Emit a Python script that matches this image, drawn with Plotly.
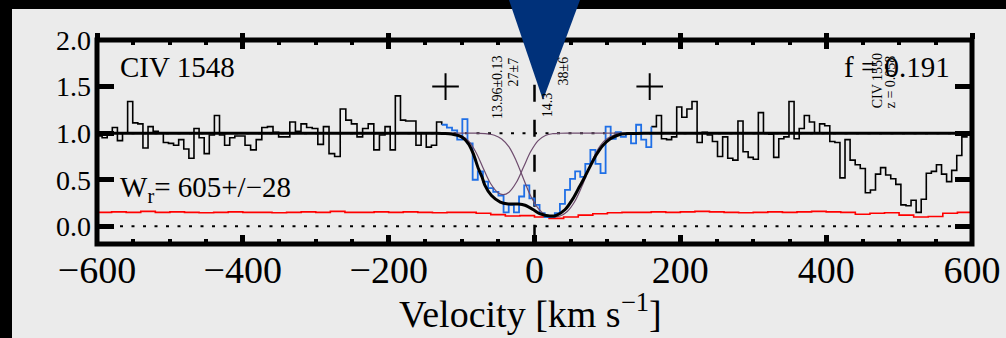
import numpy as np
import plotly.graph_objects as go

# ---------------- data (velocity in km/s, normalized flux) ----------------
seg_bounds = [-600, -397, -205, 0, 202, 398, 600]
flux_seg1 = [0.97, 0.95, 1.00, 1.06, 0.92, 1.00, 1.34, 1.11, 1.10, 0.84,
             1.07, 1.02, 1.00, 0.90, 0.89, 0.87, 0.93, 0.83, 0.73, 1.05,
             0.95, 0.78, 0.98, 1.19, 0.98, 0.87, 0.95, 0.97, 0.97]
flux_seg2 = [0.87, 0.82, 0.93, 1.06, 1.07, 1.01, 0.96, 0.96, 1.12, 1.02,
             1.10, 1.06, 1.05, 0.88, 1.07, 0.78, 0.75, 1.26, 1.14, 1.10,
             0.96, 1.05, 1.10, 0.82, 0.98]
flux_seg3 = [1.07, 0.82, 1.40, 1.14, 1.13, 1.13, 0.87, 1.00, 0.85, 0.87,
             1.12, 1.09, 1.06, 1.03, 0.93, 1.15, 0.89, 0.50, 0.59, 0.48,
             0.41, 0.37, 0.33, 0.15, 0.23, 0.15, 0.32, 0.44, 0.30]
flux_seg4 = [0.23, 0.14, 0.10, 0.10, 0.14, 0.24, 0.39, 0.51, 0.59, 0.53,
             0.67, 0.82, 0.67, 0.57, 1.07, 0.94, 1.01, 0.96, 0.99, 0.89,
             1.09, 0.93, 0.85, 1.07, 1.19, 0.94, 0.93, 0.96, 1.28]
flux_seg5 = [1.17, 1.26, 1.34, 0.90, 1.01, 0.98, 0.91, 0.75, 0.96, 0.73,
             0.71, 1.13, 0.80, 0.74, 0.72, 1.22, 1.00, 0.99, 0.74, 0.94,
             0.96, 1.34, 0.94, 1.05, 1.19, 1.12, 1.00, 1.10]
flux_seg6 = [1.08, 0.91, 0.90, 0.52, 0.93, 0.71, 0.66, 0.62, 0.36, 0.39,
             0.56, 0.63, 0.55, 0.51, 0.45, 0.23, 0.22, 0.28, 0.15, 0.29,
             0.57, 0.59, 0.66, 0.56, 0.48, 0.60, 0.76, 0.96, 0.98]
flux_segments = [flux_seg1, flux_seg2, flux_seg3, flux_seg4, flux_seg5, flux_seg6]

fit_region = [-128, 158]

# error spectrum, 20 km/s bins starting at -600
err_v0, err_dv = -600, 20
err_flux = [0.150, 0.155, 0.150, 0.160, 0.150, 0.155, 0.150, 0.145, 0.150, 0.155,
            0.150, 0.150, 0.145, 0.150, 0.155, 0.150, 0.160, 0.150, 0.150, 0.155,
            0.150, 0.155, 0.150, 0.145, 0.150, 0.150, 0.140, 0.125, 0.110, 0.115,
            0.100, 0.085, 0.100, 0.120, 0.135, 0.145, 0.150, 0.150, 0.155, 0.150,
            0.155, 0.160, 0.155, 0.150, 0.145, 0.150, 0.155, 0.150, 0.155, 0.160,
            0.155, 0.150, 0.130, 0.140, 0.145, 0.120, 0.100, 0.105, 0.140, 0.150]

# total fit (convolved)
fit_v = [-600, -135, -125, -114, -100, -91, -84, -77, -72, -68,
         -59, -47, -36, -22, -13, 0, 7, 21, 30, 42,
         53, 62, 69, 78, 85, 94, 104, 117, 131, 150, 600]
fit_f = [1.0, 1.0, 0.996, 0.99, 0.96, 0.89, 0.78, 0.62, 0.53, 0.44,
         0.33, 0.26, 0.24, 0.24, 0.226, 0.17, 0.136, 0.11, 0.118, 0.18,
         0.30, 0.43, 0.53, 0.67, 0.77, 0.87, 0.94, 0.986, 0.996, 1.0, 1.0]

# individual components
comp1_v = [-125, -110, -100, -90, -80, -70, -60, -50, -43, -35, -25, -15, -5, 5, 15, 25, 35, 50, 158]
comp1_f = [1.0, 0.993, 0.971, 0.911, 0.79, 0.618, 0.457, 0.36, 0.34, 0.366, 0.47, 0.636, 0.805,
           0.92, 0.975, 0.994, 0.999, 1.0, 1.0]
comp2_v = [-125, -80, -65, -55, -45, -35, -25, -15, -5, 5, 15, 27, 35, 45, 55, 65, 75, 85, 95,
           105, 115, 130, 158]
comp2_f = [1.0, 1.0, 0.993, 0.978, 0.938, 0.852, 0.702, 0.508, 0.322, 0.193, 0.125, 0.10, 0.111,
           0.159, 0.263, 0.429, 0.627, 0.80, 0.911, 0.967, 0.989, 0.998, 1.0]

plus_v = [-122, 158]
plus_f = [1.5, 1.5]

x_ticks = [-600, -400, -200, 0, 200, 400, 600]
y_ticks = [0.0, 0.5, 1.0, 1.5, 2.0]

# ---------------- build step arrays ----------------
edges, flux = [], []
for i, seg in enumerate(flux_segments):
    e = np.linspace(seg_bounds[i], seg_bounds[i + 1], len(seg) + 1)[:-1]
    edges.extend(e.tolist())
    flux.extend(seg)
edges.append(seg_bounds[-1])
flux_ext = flux + [flux[-1]]

a = next(i for i, v in enumerate(edges) if v >= fit_region[0])
b = next(i for i, v in enumerate(edges) if v >= fit_region[1])

err_edges = [err_v0 + i * err_dv for i in range(len(err_flux) + 1)]
err_ext = err_flux + [err_flux[-1]]

SERIF = "Liberation Serif"
W, H = 1006, 338
L, R, T, B = 97, 34, 40, 94
PW, PH = W - L - R, H - T - B


def px(xp):
    return (xp - L) / PW


def py(yp):
    return (H - B - yp) / PH


fig = go.Figure()
fig.add_trace(go.Scatter(x=err_edges, y=err_ext, mode="lines",
                         line=dict(color="#ff0000", width=1.6, shape="hv"), hoverinfo="skip"))
fig.add_trace(go.Scatter(x=edges[:a + 1], y=flux_ext[:a + 1], mode="lines",
                         line=dict(color="black", width=1.6, shape="hv"), hoverinfo="skip"))
fig.add_trace(go.Scatter(x=edges[b:], y=flux_ext[b:], mode="lines",
                         line=dict(color="black", width=1.6, shape="hv"), hoverinfo="skip"))
fig.add_trace(go.Scatter(x=edges[a:b + 1], y=flux_ext[a:b + 1], mode="lines",
                         line=dict(color="#1f6fe6", width=1.8, shape="hv"), hoverinfo="skip"))
fig.add_trace(go.Scatter(x=comp1_v, y=comp1_f, mode="lines",
                         line=dict(color="#6e4c6e", width=1.2, shape="spline", smoothing=1.0),
                         hoverinfo="skip"))
fig.add_trace(go.Scatter(x=comp2_v, y=comp2_f, mode="lines",
                         line=dict(color="#6e4c6e", width=1.2, shape="spline", smoothing=1.0),
                         hoverinfo="skip"))
fig.add_trace(go.Scatter(x=fit_v, y=fit_f, mode="lines",
                         line=dict(color="black", width=3, shape="spline", smoothing=0.8),
                         hoverinfo="skip"))
fig.add_trace(go.Scatter(x=plus_v, y=plus_f, mode="markers",
                         marker=dict(symbol="cross-thin", size=19, line=dict(width=2, color="black")),
                         hoverinfo="skip"))
fig.add_trace(go.Scatter(x=[0], y=[None], xaxis="x2", mode="markers", hoverinfo="skip"))

shapes = [
    dict(type="line", xref="x", yref="y", x0=-600, x1=600, y0=1, y1=1,
         line=dict(color="black", width=2, dash="3px,8.5px"), layer="below"),
    dict(type="line", xref="x", yref="y", x0=-600, x1=600, y0=0, y1=0,
         line=dict(color="black", width=2, dash="3px,8.5px"), layer="below"),
    dict(type="line", xref="x", yref="y", x0=0, x1=0, y0=1.52, y1=-0.19,
         line=dict(color="black", width=2.5, dash="17px,18px"), layer="below"),
    dict(type="rect", xref="paper", yref="paper", x0=0, x1=1, y0=0, y1=1,
         line=dict(color="black", width=5), layer="above"),
    dict(type="rect", xref="paper", yref="paper", x0=px(0), x1=px(W), y0=py(9), y1=py(0),
         fillcolor="black", line=dict(width=0), layer="above"),
    dict(type="rect", xref="paper", yref="paper", x0=px(0), x1=px(12), y0=py(H), y1=py(0),
         fillcolor="black", line=dict(width=0), layer="above"),
    dict(type="path", xref="paper", yref="paper",
         path=f"M {px(509)},{py(0)} L {px(580)},{py(0)} L {px(543)},{py(100)} Z",
         fillcolor="#00317a", line=dict(width=0), layer="above"),
]

ann = [
    dict(x=-571, y=1.71, text="CIV 1548", xanchor="left", yanchor="middle",
         font=dict(size=29)),
    dict(x=573, y=1.71, text="f = 0.191", xanchor="right", yanchor="middle",
         font=dict(size=29)),
    dict(x=-571, y=0.40, text="W<sub>r</sub>= 605+/\u221228", xanchor="left", yanchor="middle",
         font=dict(size=29)),
    dict(x=-51.4, y=1.86, text="13.96\u00b10.13", textangle=-90, xanchor="center", yanchor="top",
         font=dict(size=14)),
    dict(x=-29.5, y=1.84, text="27\u00b17", textangle=-90, xanchor="center", yanchor="top",
         font=dict(size=14)),
    # only the part of this label that is not hidden by the overlaid triangle
    dict(x=17.8, y=1.15, text="14.3", textangle=-90, xanchor="center", yanchor="bottom",
         font=dict(size=14)),
    dict(x=39.1, y=1.84, text="38\u00b16", textangle=-90, xanchor="center", yanchor="top",
         font=dict(size=14)),
    dict(x=469.7, y=1.25, text="CIV 1550", textangle=-90, xanchor="center", yanchor="bottom",
         font=dict(size=14)),
    dict(x=487.5, y=1.25, text="z = 0.058", textangle=-90, xanchor="center", yanchor="bottom",
         font=dict(size=14)),
    dict(xref="paper", yref="paper", x=px(530), y=py(311), text="Velocity [km s<sup>\u22121</sup>]",
         xanchor="center", yanchor="middle", font=dict(size=38)),
]
for d in ann:
    d.setdefault("xref", "x")
    d.setdefault("yref", "y")
    d["showarrow"] = False
    d["font"] = dict(family=SERIF, color="black", size=d["font"]["size"])

fig.update_layout(
    width=W, height=H,
    margin=dict(l=L, r=R, t=T, b=B, pad=0, autoexpand=False),
    paper_bgcolor="#ebebeb", plot_bgcolor="#ebebeb",
    showlegend=False,
    shapes=shapes, annotations=ann,
    xaxis=dict(range=[-600, 600], tickmode="array", tickvals=x_ticks,
               ticks="inside", ticklen=9, tickwidth=5, tickcolor="black",
               mirror="ticks", showline=False, showgrid=False, zeroline=False,
               automargin=False,
               tickfont=dict(family=SERIF, size=38, color="black"),
               ticklabelstandoff=0,
               minor=dict(ticks="inside", tickmode="linear", tick0=0, dtick=50, ticklen=5,
                          tickwidth=4, tickcolor="black", showgrid=False)),
    xaxis2=dict(range=[-600, 600], overlaying="x", side="top", anchor="y",
                tickmode="array", tickvals=x_ticks, ticks="outside", ticklen=6, tickwidth=5,
                tickcolor="black", showticklabels=False, showgrid=False, zeroline=False,
                showline=False, automargin=False),
    yaxis=dict(range=[-0.19, 2.0], tickmode="array", tickvals=y_ticks,
               ticktext=[f"{v:.1f}" for v in y_ticks],
               ticks="inside", ticklen=17, tickwidth=5, tickcolor="black",
               mirror="ticks", showline=False, showgrid=False, zeroline=False,
               automargin=False,
               tickfont=dict(family=SERIF, size=28, color="black"),
               ticklabelstandoff=5),
)

fig.write_html("out.html")
